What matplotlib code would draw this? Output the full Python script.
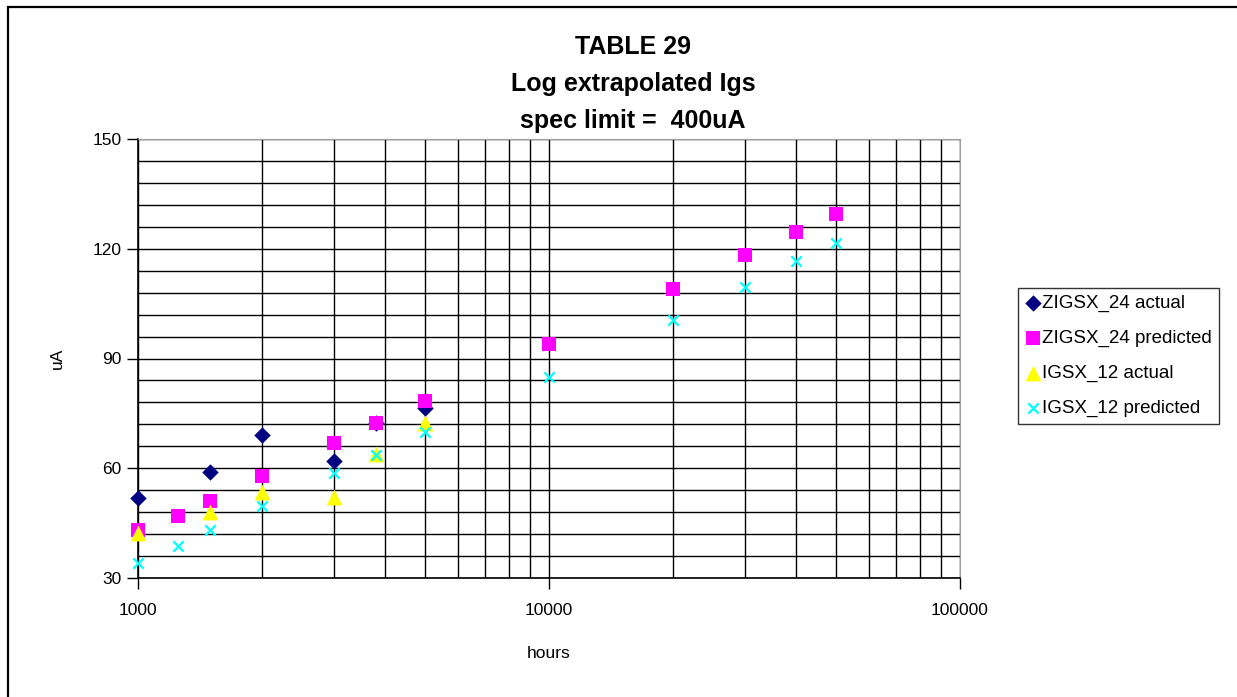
# TABLE 29 - log extrapolated Igs vs hours (semilog scatter)

import matplotlib.pyplot as plt
from matplotlib.ticker import FixedLocator, NullFormatter, FixedFormatter
from matplotlib.patches import Rectangle

plt.rcParams['font.family'] = ['Liberation Sans', 'DejaVu Sans']

# data
hours_all = [1000, 1250, 1500, 2000, 3000, 3800, 5000, 10000, 20000, 30000, 40000, 50000]
hours_act = [1000, 1500, 2000, 3000, 3800, 5000]

zigsx24_actual = [52, 59, 69, 62, 72.5, 76.5]
zigsx24_pred = [43, 47, 51, 58, 67, 72.3, 78.4, 94, 109, 118.3, 124.7, 129.5]
igsx12_actual = [42.2, 48, 53.5, 52.2, 64, 72.3]
igsx12_pred = [34.2, 38.8, 43.1, 49.7, 58.8, 63.6, 70, 85, 100.6, 109.6, 116.7, 121.7]

x_ticks = [1000, 10000, 100000]
x_labels = ['1000', '10000', '100000']
y_ticks = [30, 60, 90, 120, 150]

fig = plt.figure(figsize=(12.37, 6.97), dpi=100)
ax = fig.add_axes([138/1237, 1 - 578/697, (960 - 138)/1237, (578 - 139)/697])

# outer chart frame (only left and top visible in the original)
fig.patches.append(Rectangle((8/1237, -0.1), 1.2, (1 - 7/697) + 0.1,
                             transform=fig.transFigure, fill=False,
                             edgecolor='black', linewidth=1.6))

ax.scatter(hours_act, zigsx24_actual, marker='D', s=70, color='#000080',
           label='ZIGSX_24 actual', zorder=3, linewidths=0, clip_on=False)
ax.scatter(hours_all, zigsx24_pred, marker='s', s=110, color='#FF00FF',
           label='ZIGSX_24 predicted', zorder=4, linewidths=0, clip_on=False)
ax.scatter(hours_act, igsx12_actual, marker='^', s=130, color='#FFFF00',
           label='IGSX_12 actual', zorder=5, linewidths=0, clip_on=False)
ax.scatter(hours_all, igsx12_pred, marker='x', s=55, color='#00FFFF',
           label='IGSX_12 predicted', zorder=6, linewidths=1.6, clip_on=False)

ax.set_xscale('log')
ax.set_xlim(1000, 100000)
ax.set_ylim(30, 150)

ax.xaxis.set_major_locator(FixedLocator(x_ticks))
ax.xaxis.set_major_formatter(FixedFormatter(x_labels))
minor_x = [m * d for d in (1000, 10000) for m in range(2, 10)]
ax.xaxis.set_minor_locator(FixedLocator(minor_x))
ax.xaxis.set_minor_formatter(NullFormatter())
ax.yaxis.set_major_locator(FixedLocator(y_ticks))
ax.yaxis.set_minor_locator(FixedLocator(list(range(36, 150, 6))))

ax.grid(which='both', color='black', linewidth=1.0)
ax.set_axisbelow(True)
ax.tick_params(which='major', length=8, width=1.0, color='black', labelsize=12.5, pad=10)
ax.tick_params(which='minor', length=0)
ax.tick_params(axis='y', pad=4)

for s in ('top', 'right'):
    ax.spines[s].set_color('#a0a0a0')
for s in ('left', 'bottom'):
    ax.spines[s].set_linewidth(1.2)

ax.set_xlabel('hours', fontsize=12.5, labelpad=20)
ax.set_ylabel('uA', fontsize=12.5, labelpad=20)

fig.text(633/1237, 1 - 47/697, 'TABLE 29', ha='center', va='center',
         fontsize=18, fontweight='bold')
fig.text(633/1237, 1 - 84/697, 'Log extrapolated Igs', ha='center', va='center',
         fontsize=18, fontweight='bold')
fig.text(633/1237, 1 - 121/697, 'spec limit =  400uA', ha='center', va='center',
         fontsize=18, fontweight='bold')

leg = fig.legend(loc='upper left', bbox_to_anchor=(1018/1237, 1 - 288/697),
                 fontsize=13.5, frameon=True, fancybox=False, edgecolor='black',
                 handletextpad=0.05, handlelength=0.9, borderpad=0.35,
                 labelspacing=0.95, borderaxespad=0)
leg.get_frame().set_linewidth(1.0)

plt.savefig('out.png', dpi=100)
